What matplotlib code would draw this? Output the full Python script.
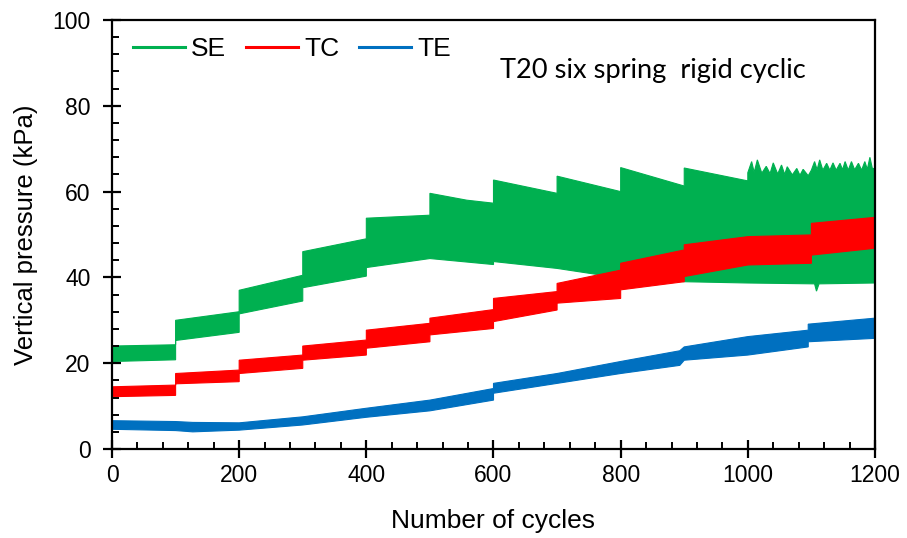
import matplotlib
matplotlib.use("Agg")
import matplotlib.pyplot as plt
from matplotlib.lines import Line2D
from matplotlib.ticker import MultipleLocator
import numpy as np

plt.rcParams['font.family'] = ['Liberation Sans', 'DejaVu Sans']

# Envelopes (upper / lower pressure, kPa) of the cyclic records, per loading stage
se_up_x = [0, 100, 100, 200, 200, 300, 300, 400, 400, 500, 500, 558, 600, 600,
           700, 700, 800, 800, 900, 900, 1000,
           1000, 1006, 1010, 1015, 1022, 1029, 1035, 1040, 1047, 1053, 1058, 1062, 1070,
           1077, 1082, 1087, 1095,
           1100, 1105, 1109, 1113, 1118, 1124, 1129, 1134, 1139, 1145, 1149, 1153, 1158,
           1163, 1168, 1174, 1179, 1184, 1188, 1192, 1196, 1200]
se_up_y = [24.0, 24.3, 30.0, 32.0, 37.0, 40.5, 46.0, 49.0, 53.8, 54.5, 59.6, 58.0, 57.3, 62.7,
           59.6, 63.6, 60.0, 65.6, 61.3, 65.5, 62.5,
           64.4, 67.0, 64.5, 67.4, 64.3, 65.9, 64.2, 66.7, 64.1, 66.2, 64.0, 65.8, 63.9,
           65.4, 63.8, 65.2, 63.7,
           65.0, 67.0, 65.1, 67.4, 65.0, 66.6, 65.0, 66.7, 65.0, 66.6, 65.1, 67.0, 65.0,
           67.0, 65.1, 66.6, 65.0, 67.0, 65.2, 68.0, 65.3, 65.5]
se_lo_x = [0, 100, 100, 200, 200, 300, 300, 400, 400, 500, 600, 600, 700, 780,
           900, 1000, 1105, 1108, 1112, 1200]
se_lo_y = [20.4, 20.8, 25.3, 27.2, 31.5, 34.5, 37.6, 40.3, 42.3, 44.4, 43.0, 43.7, 42.1, 40.3,
           39.0, 38.7, 38.5, 36.8, 38.5, 38.7]

tc_up_x = [0, 100, 100, 200, 200, 300, 300, 400, 400, 500, 500, 600, 600,
           700, 700, 800, 800, 900, 900, 1000, 1100, 1100, 1200]
tc_up_y = [14.5, 14.9, 17.6, 18.4, 20.7, 21.9, 24.0, 25.4, 27.7, 29.3, 30.5, 32.5, 35.1,
           36.7, 38.6, 41.7, 43.3, 46.4, 47.6, 49.5, 49.9, 52.6, 54.0]
tc_lo_x = tc_up_x
tc_lo_y = [12.2, 12.5, 15.2, 15.7, 17.6, 18.8, 20.7, 21.9, 23.5, 25.0, 26.6, 28.1, 29.7,
           32.4, 34.0, 35.1, 37.1, 39.0, 40.2, 42.9, 43.3, 45.2, 46.8]

te_up_x = [0, 100, 127, 200, 300, 400, 500, 600, 600, 700, 800, 893, 900, 1000, 1095, 1095, 1200]
te_up_y = [6.6, 6.4, 6.2, 6.1, 7.5, 9.5, 11.4, 14.1, 15.3, 17.6, 20.4, 22.9, 23.8, 26.2, 27.7, 29.1, 30.5]
te_lo_x = te_up_x
te_lo_y = [4.6, 4.3, 4.0, 4.4, 5.6, 7.4, 8.9, 11.4, 13.0, 15.3, 17.6, 19.5, 20.7, 21.9, 23.8, 25.0, 25.8]

series = [
    ("SE", "#00B050", se_up_x, se_up_y, se_lo_x, se_lo_y),
    ("TC", "#FF0000", tc_up_x, tc_up_y, tc_lo_x, tc_lo_y),
    ("TE", "#0070C0", te_up_x, te_up_y, te_lo_x, te_lo_y),
]

fig = plt.figure(figsize=(9.07, 5.38), dpi=100)
ax = fig.add_axes([0.1235, 0.1654, 0.8412, 0.7974])

handles = []
for name, color, ux, uy, lx, ly in series:
    px = np.concatenate([ux, lx[::-1]])
    py = np.concatenate([uy, ly[::-1]])
    ax.fill(px, py, color=color, lw=0.8, ec=color)
    handles.append(Line2D([], [], color=color, lw=2.2))

ax.set_xlim(0, 1200)
ax.set_ylim(0, 100)
ax.xaxis.set_major_locator(MultipleLocator(200))
ax.xaxis.set_minor_locator(MultipleLocator(40))
ax.yaxis.set_major_locator(MultipleLocator(20))
ax.yaxis.set_minor_locator(MultipleLocator(4))

for s in ax.spines.values():
    s.set_linewidth(1.6)
ax.tick_params(which='major', direction='inout', length=13, width=1.6, labelsize=16.5,
               top=False, right=False)
ax.tick_params(axis='x', which='major', pad=4)
ax.tick_params(axis='y', which='major', pad=9)
ax.tick_params(which='minor', direction='in', length=5, width=1.4, top=False, right=False)

ax.set_xlabel("Number of cycles", fontsize=19, labelpad=16)
ax.set_ylabel("Vertical pressure (kPa)", fontsize=18.5, labelpad=10)

ax.legend(handles, ["SE", "TC", "TE"], loc='center left', bbox_to_anchor=(0.027, 0.932),
          ncol=3, frameon=False, fontsize=19, handlelength=1.97, handletextpad=0.23,
          columnspacing=0.76, borderpad=0, borderaxespad=0)

ax.text(0.509, 0.882, "T20 six spring  rigid cyclic", transform=ax.transAxes,
        fontsize=19.6, family=['Lato', 'DejaVu Sans'], va='center', ha='left')

fig.savefig("out.png", dpi=100)
